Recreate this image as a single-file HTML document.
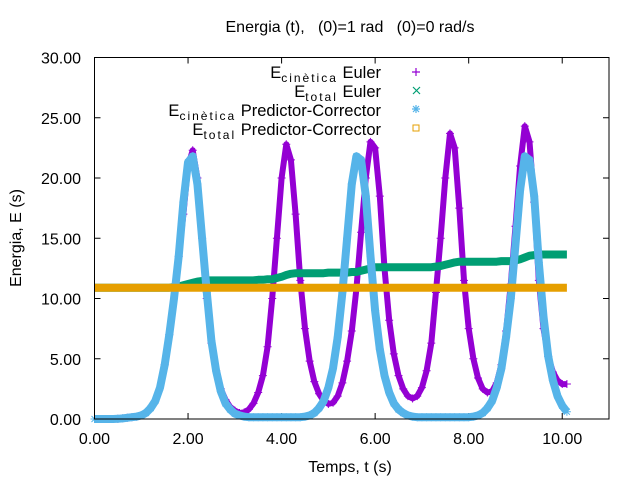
<!DOCTYPE html>
<html><head><meta charset="utf-8"><style>
body{margin:0;background:#fff}
svg{display:block;font-family:"Liberation Sans",sans-serif}
</style></head><body>
<svg id="chart" width="640" height="480" viewBox="0 0 640 480">
<text x="350" y="32" text-anchor="middle" font-size="16" xml:space="preserve">Energia (t),   (0)=1 rad   (0)=0 rad/s</text>
<text transform="translate(21,238) rotate(-90)" text-anchor="middle" font-size="16">Energia, E (s)</text>
<text x="350" y="472" text-anchor="middle" font-size="16">Temps, t (s)</text>
<g id="ticks"></g>
<g id="series"></g>
<rect x="94.5" y="57.5" width="514.5" height="361.5" fill="none" stroke="#000" stroke-width="1"/>
<g font-size="16.5" text-anchor="end">
<g><text x="381" y="78">E<tspan font-size="12" dy="4" letter-spacing="2">cinètica</tspan><tspan dy="-4"> Euler</tspan></text>
<path d="M412 72h8M416 68v8" stroke="#9400d3" stroke-width="1.2"/></g>
<g><text x="381" y="97">E<tspan font-size="12" dy="4" letter-spacing="2">total</tspan><tspan dy="-4"> Euler</tspan></text>
<path d="M413 87l7 7M420 87l-7 7" stroke="#009e73" stroke-width="1.2"/></g>
<g><text x="381" y="116">E<tspan font-size="12" dy="4" letter-spacing="2">cinètica</tspan><tspan dy="-4"> Predictor-Corrector</tspan></text>
<path d="M412 109h8M416 105v8M413 106l6 6M419 106l-6 6" stroke="#56b4e9" stroke-width="1.2"/></g>
<g><text x="381" y="135">E<tspan font-size="12" dy="4" letter-spacing="2">total</tspan><tspan dy="-4"> Predictor-Corrector</tspan></text>
<rect x="413" y="125" width="6" height="6" fill="none" stroke="#e69f00" stroke-width="1"/></g>
</g>
</svg>
<script>
const xTicks=[0,2,4,6,8,10];
const yTicks=[0,5,10,15,20,25,30];
const times=[0,0.1,0.2,0.3,0.4,0.5,0.6,0.7,0.8,0.9,1.0,1.1,1.2,1.3,1.4,1.5,1.6,1.7,1.8,1.9,2.0,2.1,2.2,2.3,2.4,2.5,2.6,2.7,2.8,2.9,3.0,3.1,3.2,3.3,3.4,3.5,3.6,3.7,3.8,3.9,4.0,4.1,4.2,4.3,4.4,4.5,4.6,4.7,4.8,4.9,5.0,5.1,5.2,5.3,5.4,5.5,5.6,5.7,5.8,5.9,6.0,6.1,6.2,6.3,6.4,6.5,6.6,6.7,6.8,6.9,7.0,7.1,7.2,7.3,7.4,7.5,7.6,7.7,7.8,7.9,8.0,8.1,8.2,8.3,8.4,8.5,8.6,8.7,8.8,8.9,9.0,9.1,9.2,9.3,9.4,9.5,9.6,9.7,9.8,9.9,10.0,10.1];
const ekinEuler=[0,0,0,0,0,0.02,0.05,0.1,0.15,0.2,0.3,0.5,0.9,1.5,2.6,4.5,7,10,13.5,17,21,22.3,20,15,10,6.3,4,2.5,1.6,1.0,0.7,0.5,0.55,0.8,1.3,2.2,3.6,6,10,15,20,22.8,21.5,17,11.5,7.5,4.8,3.1,2.1,1.5,1.25,1.35,1.9,3,4.8,7.3,10.8,15.5,20,23,22.5,18.5,12.5,8.2,5.4,3.6,2.5,1.9,1.7,1.9,2.6,4,6.3,10.5,15,20,23.7,22.5,17.5,11.5,7.5,5,3.4,2.5,2.2,2.3,3,4.5,7.3,11.2,16,21,24.3,23,18,11.5,7.5,5.2,3.9,3.2,2.9,2.9];
const etotEuler=[10.9,10.9,10.9,10.9,10.9,10.9,10.9,10.9,10.9,10.9,10.9,10.9,10.9,10.9,10.9,10.9,10.9,10.95,11.0,11.1,11.2,11.3,11.4,11.45,11.5,11.5,11.5,11.5,11.5,11.5,11.5,11.5,11.5,11.5,11.5,11.55,11.55,11.6,11.6,11.7,11.8,11.95,12.05,12.1,12.1,12.1,12.1,12.1,12.1,12.1,12.15,12.15,12.15,12.15,12.15,12.2,12.2,12.3,12.4,12.5,12.6,12.6,12.6,12.6,12.6,12.6,12.6,12.6,12.6,12.6,12.6,12.6,12.6,12.65,12.7,12.8,12.9,13.0,13.05,13.05,13.05,13.05,13.05,13.05,13.05,13.05,13.05,13.1,13.1,13.1,13.15,13.25,13.4,13.55,13.6,13.65,13.65,13.65,13.65,13.65,13.65,13.65];
const ekinPC=[0,0,0,0,0,0.02,0.05,0.1,0.15,0.2,0.3,0.5,0.9,1.5,2.6,4.5,7,10,13.5,18,21.3,21.8,19.5,15,10.5,6.5,4,2.3,1.3,0.8,0.45,0.3,0.2,0.15,0.15,0.15,0.15,0.15,0.15,0.15,0.15,0.15,0.15,0.15,0.15,0.2,0.3,0.5,0.9,1.5,2.6,4.2,6.8,10.5,15,19.5,21.8,21.5,18.5,13.5,9,5.8,3.6,2.2,1.3,0.8,0.5,0.3,0.2,0.15,0.15,0.15,0.15,0.15,0.15,0.15,0.15,0.15,0.15,0.15,0.15,0.2,0.3,0.5,0.9,1.5,2.6,4.2,6.8,10,14.5,19,21.8,21.5,18.5,13,8.5,5.2,3.2,1.9,1.1,0.6];
const etotPC=[10.9,10.9,10.9,10.9,10.9,10.9,10.9,10.9,10.9,10.9,10.9,10.9,10.9,10.9,10.9,10.9,10.9,10.9,10.9,10.9,10.9,10.9,10.9,10.9,10.9,10.9,10.9,10.9,10.9,10.9,10.9,10.9,10.9,10.9,10.9,10.9,10.9,10.9,10.9,10.9,10.9,10.9,10.9,10.9,10.9,10.9,10.9,10.9,10.9,10.9,10.9,10.9,10.9,10.9,10.9,10.9,10.9,10.9,10.9,10.9,10.9,10.9,10.9,10.9,10.9,10.9,10.9,10.9,10.9,10.9,10.9,10.9,10.9,10.9,10.9,10.9,10.9,10.9,10.9,10.9,10.9,10.9,10.9,10.9,10.9,10.9,10.9,10.9,10.9,10.9,10.9,10.9,10.9,10.9,10.9,10.9,10.9,10.9,10.9,10.9,10.9,10.9];

const NS='http://www.w3.org/2000/svg';
const X0=94.5,X1=609,Y0=419,Y1=57.5;
function sx(t){return X0+(t/11)*(X1-X0);}
function sy(v){return Y0-(v/30)*(Y0-Y1);}
const ticks=document.getElementById('ticks');
const ser=document.getElementById('series');
function mk(tag,attrs,parent){const e=document.createElementNS(NS,tag);for(const k in attrs)e.setAttribute(k,attrs[k]);parent.appendChild(e);return e;}
xTicks.forEach(v=>{
  const x=sx(v);
  const l=mk('path',{d:`M${x} ${Y0}v-6M${x} ${Y1}v6`,stroke:'#000','stroke-width':1},ticks);
  
  
  const t=mk('text',{x:x,y:444,'text-anchor':'middle','font-size':16},ticks);
  t.textContent=v.toFixed(2);
  
  
});
yTicks.forEach(v=>{
  const y=sy(v);
  const l=mk('path',{d:`M${X0} ${y}h6M${X1} ${y}h-6`,stroke:'#000','stroke-width':1},ticks);
  
  
  const t=mk('text',{x:81,y:y+6,'text-anchor':'end','font-size':16},ticks);
  t.textContent=v.toFixed(2);
  
  
});
function pts(vals){return vals.map((v,i)=>sx(times[i]).toFixed(1)+','+sy(v).toFixed(1)).join(' ');}
function line(vals,color,w,name){
  const p=mk('polyline',{points:pts(vals),fill:'none',stroke:color,'stroke-width':w,'stroke-linejoin':'round','stroke-linecap':'butt'},ser);
  
  
}
function markers(vals,color,kind,name){
  const g=mk('g',{stroke:color,'stroke-width':1,fill:'none'},ser);
  
  
  let d='';
  vals.forEach((v,i)=>{const x=sx(times[i]),y=sy(v);
    if(kind==='plus')d+=`M${x-4} ${y}h8M${x} ${y-4}v8`;
    else d+=`M${x-4} ${y}h8M${x} ${y-4}v8M${x-3} ${y-3}l6 6M${x+3} ${y-3}l-6 6`;
  });
  mk('path',{d:d},g);
}
line(ekinEuler,'#9400d3',6,'ekin-euler-line');
markers(ekinEuler,'#9400d3','plus','ekin-euler-markers');
line(etotEuler,'#009e73',8,'etot-euler-line');
line(ekinPC,'#56b4e9',8,'ekin-pc-line');
markers(ekinPC,'#56b4e9','star','ekin-pc-markers');
line(etotPC,'#e69f00',8,'etot-pc-line');
</script>
</body></html>
